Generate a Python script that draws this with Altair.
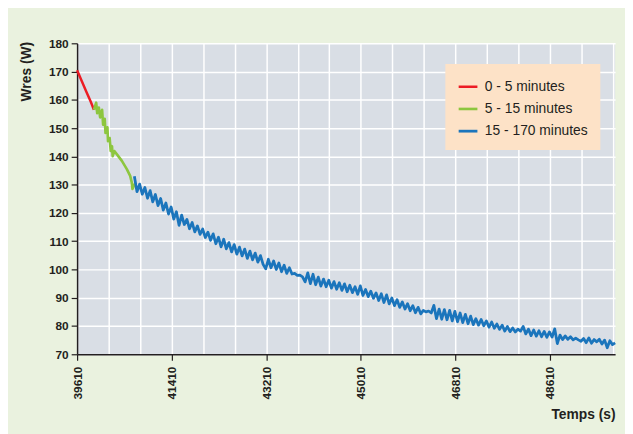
import altair as alt
import pandas as pd

# ---- data ----
seg_names = ["0 - 5 minutes", "5 - 15 minutes", "15 - 170 minutes"]
seg_colors = ["#EC1C24", "#8DC63F", "#1B75BC"]

red_t = [39610, 39700, 39790, 39870, 39930]
red_w = [170.5, 166.6, 162.7, 159.3, 156.5]

green_t = [39930, 39973, 39992, 40024, 40048, 40086, 40105, 40136, 40150, 40187,
           40198, 40230, 40249, 40274, 40287, 40319, 40368, 40462, 40556, 40620,
           40650, 40663, 40714]
green_w = [156.5, 159.0, 155.3, 157.3, 153.8, 156.5, 151.2, 153.3, 148.3, 150.3,
           145.4, 146.5, 141.9, 143.6, 140.1, 141.9, 140.7, 138.4, 135.5, 133.1,
           130.8, 128.5, 130.5]

blue_start = 40700
blue_step = 50
blue_w = [
    133.0, 127.5, 130.2, 126.6, 129.0, 125.2, 127.9, 123.9, 126.5, 122.6,
    125.1, 121.0, 123.5, 119.6, 122.1, 117.8, 120.4, 115.6, 119.2, 115.9,
    117.7, 114.4, 116.6, 113.3, 115.4, 112.4, 114.3, 111.3, 113.2, 110.3,
    112.6, 109.1, 111.4, 108.0, 110.7, 107.3, 109.5, 106.2, 108.8, 105.4,
    107.9, 104.8, 107.2, 103.9, 106.5, 103.4, 105.8, 102.6, 104.9, 101.8,
    100.2, 103.6, 100.6, 103.0, 100.0, 102.3, 99.2, 101.5, 98.6, 100.6,
    98.4, 98.6, 97.9, 98.0, 97.4, 95.6, 98.8, 95.0, 98.3, 94.6,
    97.3, 94.1, 96.6, 93.9, 96.2, 93.4, 95.7, 93.0, 95.3, 92.6,
    94.9, 92.1, 94.4, 91.8, 93.9, 91.2, 94.2, 90.8, 92.9, 90.4,
    92.3, 89.8, 91.7, 89.0, 91.4, 88.3, 91.0, 87.8, 89.9, 87.2,
    89.3, 86.6, 88.5, 86.0, 87.9, 85.4, 87.2, 84.7, 86.6, 84.3,
    85.5, 85.0, 85.3, 84.6, 87.3, 82.6, 86.0, 82.4, 85.8, 82.2,
    85.5, 81.8, 85.2, 81.5, 84.6, 81.2, 84.1, 80.8, 83.5, 80.5,
    82.6, 80.3, 82.3, 80.1, 81.8, 79.6, 81.4, 79.2, 80.7, 78.8,
    80.3, 78.2, 79.8, 78.0, 79.3, 77.9, 78.9, 78.2, 79.8, 77.2,
    78.9, 76.6, 78.6, 76.4, 78.3, 76.2, 78.1, 76.0, 77.9, 76.1,
    79.0, 73.8, 76.8, 75.2, 76.5, 75.3, 76.2, 75.1, 75.7, 75.1,
    74.6, 75.6, 74.1, 75.8, 73.9, 75.2, 74.4, 75.3, 73.6, 75.0,
    72.3, 74.8, 73.4, 74.0,
]
blue_t = [blue_start + blue_step * i for i in range(len(blue_w))]

x_min, x_max = 39610, 49850
x_grid = [39610 + 600 * k for k in range(18)]
y_ticks = list(range(70, 181, 10))

rows = []
for name, ts, ws in [(seg_names[0], red_t, red_w),
                     (seg_names[1], green_t, green_w),
                     (seg_names[2], blue_t, blue_w)]:
    for i, (t, w) in enumerate(zip(ts, ws)):
        rows.append({"t": t, "w": w, "seg": name, "i": i})
df = pd.DataFrame(rows)

dark = "#231F20"
font = "Liberation Sans"

major_test = "(datum.value - 39610) % 1800 == 0"

chart = alt.Chart(df).mark_line(strokeJoin="round").encode(
    x=alt.X("t:Q",
            scale=alt.Scale(domain=[x_min, x_max], nice=False, zero=False),
            axis=alt.Axis(values=x_grid, format="d",
                          labelExpr=f"{major_test} ? datum.label : ''",
                          labelAngle=-90, labelAlign="right", labelBaseline="middle",
                          labelPadding=6, labelOverlap=False, labelFlush=False,
                          labelFont=font, labelFontSize=12, labelFontWeight="bold",
                          labelColor=dark,
                          tickOpacity={"condition": {"test": major_test, "value": 1}, "value": 0},
                          tickSize=6, tickColor=dark, tickWidth=1.2,
                          domainColor=dark, domainWidth=1.5,
                          grid=True, gridColor="white", gridWidth=1.5,
                          title="Temps (s)", titleFont=font, titleFontSize=14,
                          titleFontWeight="bold", titleColor=dark,
                          titleAlign="right", titleAnchor="end", titleBaseline="top",
                          titleX=545, titleY=54)),
    y=alt.Y("w:Q",
            scale=alt.Scale(domain=[70, 180], nice=False, zero=False),
            axis=alt.Axis(values=y_ticks, format="d",
                          labelFont=font, labelFontSize=12, labelFontWeight="bold",
                          labelColor=dark, labelPadding=3,
                          tickSize=6, tickColor=dark, tickWidth=1.2,
                          domainColor=dark, domainWidth=1.5,
                          grid=True, gridColor="white", gridWidth=1.5,
                          title="Wres (W)", titleFont=font, titleFontSize=14,
                          titleFontWeight="bold", titleColor=dark,
                          titleAngle=-90, titleAlign="right", titleAnchor="end",
                          titleBaseline="middle", titleX=-51, titleY=-2)),
    color=alt.Color("seg:N",
                    scale=alt.Scale(domain=seg_names, range=seg_colors),
                    legend=alt.Legend(title=None, orient="none", legendX=373, legendY=21,
                                      fillColor="#FDE2C7", padding=12,
                                      symbolType="stroke", symbolSize=361,
                                      symbolStrokeWidth=2.5, labelOffset=6,
                                      rowPadding=4.5, labelFont=font,
                                      labelFontSize=14, labelColor=dark,
                                      labelLimit=300)),
    strokeWidth=alt.StrokeWidth("seg:N",
                                scale=alt.Scale(domain=seg_names, range=[2.5, 2.8, 2.3]),
                                legend=None),
    order="i:Q",
).properties(
    width=545, height=315,
    background="#EAF2DF",
    padding={"left": 70, "top": 33, "right": 10, "bottom": 78},
    autosize=alt.AutoSizeParams(type="none"),
).configure_view(
    fill="#D9DEE5", stroke=None
)

chart.save("out.html", embed_options={"renderer": "svg", "actions": False})
